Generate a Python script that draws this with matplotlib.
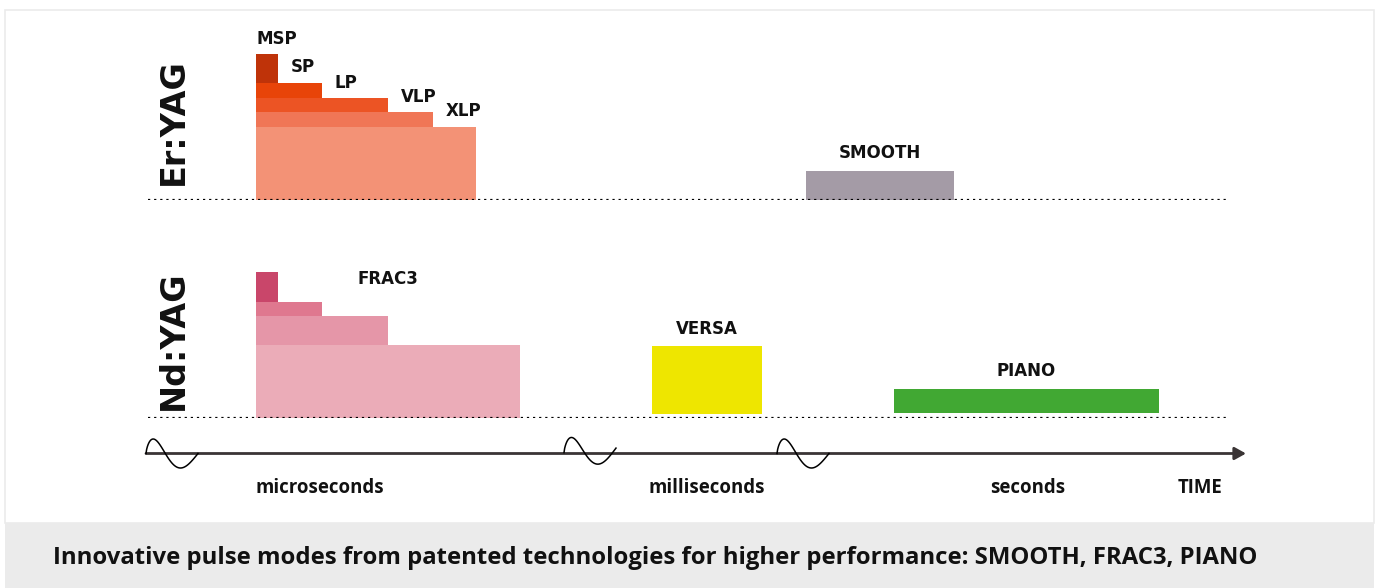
import matplotlib.pyplot as plt
from matplotlib.patches import Rectangle
import numpy as np

# schematic units: 1 unit of time / intensity on the drawing
pulse_start = 10.8

# Er:YAG pulse modes
er_modes = ['MSP', 'SP', 'LP', 'VLP', 'XLP']
er_end = [13.0, 17.4, 24.0, 28.5, 32.8]
er_height = [14.6, 11.7, 10.2, 8.8, 7.3]
er_colors = ['#bf3309', '#e84409', '#ec5424', '#f07656', '#f39276']

# Nd:YAG FRAC3 pulse train
nd_end = [13.0, 17.4, 24.0, 37.2]
nd_height = [14.6, 11.6, 10.2, 7.3]
nd_colors = ['#c9466a', '#df788f', '#e596a8', '#ebacb8']

# other modes: name, row, start, end, bottom, top, colour
extra_modes = ['SMOOTH', 'VERSA', 'PIANO']
extra_row = ['er', 'nd', 'nd']
extra_start = [65.8, 50.4, 74.6]
extra_end = [80.6, 61.4, 101.1]
extra_bottom = [0.0, 0.4, 0.5]
extra_top = [2.9, 7.2, 2.9]
extra_colors = ['#a49ba6', '#eee600', '#41a833']

# time scale
scale_labels = ['microseconds', 'milliseconds', 'seconds', 'TIME']
scale_pos = [17.2, 55.9, 88.0, 105.2]
break_pos = [-0.2, 41.6, 62.9]
break_tilt = [0.0, 0.45, 0.0]

caption = 'Innovative pulse modes from patented technologies for higher performance: SMOOTH, FRAC3, PIANO'

W, H = 1376, 588
fig = plt.figure(figsize=(W / 100, H / 100), dpi=100)
fig.patch.set_facecolor('white')

# white panel border and grey caption band
fig.add_artist(Rectangle((5 / W, 65 / H), 1369 / W, 513 / H, transform=fig.transFigure,
                         facecolor='white', edgecolor='#ebebeb', lw=1.2, zorder=0))
fig.add_artist(Rectangle((5 / W, 0), 1369 / W, 65 / H, transform=fig.transFigure,
                         facecolor='#ebebeb', edgecolor='none', zorder=0))
fig.text(53 / W, 30 / H, caption, family='Open Sans', weight='bold', fontsize=17.2,
         color='#111111', ha='left', va='center')

xlim = (-14.8, 122.8)
ax_er = fig.add_axes([0, 388 / H, 1, 190 / H])
ax_nd = fig.add_axes([0, 170 / H, 1, 190 / H])
ax_t = fig.add_axes([0, 65 / H, 1, 95 / H])
for ax in (ax_er, ax_nd):
    ax.set_xlim(*xlim)
    ax.set_ylim(0, 19)
ax_t.set_xlim(*xlim)
ax_t.set_ylim(-6.95, 2.55)
for ax in (ax_er, ax_nd, ax_t):
    ax.axis('off')
    ax.patch.set_alpha(0)

lab = dict(family='DejaVu Sans', weight='bold', fontsize=12, color='#111111')

# Er:YAG stepped pulses, tallest drawn first so each wider pulse covers its base
for i in range(len(er_modes)):
    ax_er.bar(pulse_start, er_height[i], width=er_end[i] - pulse_start, align='edge',
              color=er_colors[i], lw=0, zorder=2)
for i, m in enumerate(er_modes):
    x = pulse_start if i == 0 else er_end[i - 1] + 1.3
    ax_er.text(x, er_height[i] + 1.55, m, ha='left', va='center', **lab)

# Nd:YAG FRAC3
for i in range(len(nd_end)):
    ax_nd.bar(pulse_start, nd_height[i], width=nd_end[i] - pulse_start, align='edge',
              color=nd_colors[i], lw=0, zorder=2)
ax_nd.text(nd_end[2], nd_height[0] - 0.7, 'FRAC3', ha='center', va='center', **lab)

for m, r, s, e, b, t, c in zip(extra_modes, extra_row, extra_start, extra_end,
                               extra_bottom, extra_top, extra_colors):
    ax = ax_er if r == 'er' else ax_nd
    ax.bar(s, t - b, bottom=b, width=e - s, align='edge', color=c, lw=0, zorder=2)
    ax.text((s + e) / 2, t + 1.75, m, ha='center', va='center', **lab)

# dotted baselines and row names
for ax, name in ((ax_er, 'Er:YAG'), (ax_nd, 'Nd:YAG')):
    ax.plot([0, 108.1], [0, 0], color='#000000', lw=1.6, ls=(0, (1, 1.75)), zorder=3)
    ax.text(2.5, 7.8, name, rotation=90, ha='center', va='center',
            family='DejaVu Sans', weight='heavy', fontsize=24, color='#111111')

# time axis with breaks
ax_t.annotate('', xy=(109.8, 0), xytext=(-0.2, 0),
              arrowprops=dict(arrowstyle='-|>,head_length=0.45,head_width=0.25',
                              lw=2, color='#3a3435', shrinkA=0, shrinkB=0,
                              mutation_scale=15))
t = np.linspace(0, 1, 80)
for x0, tilt in zip(break_pos, break_tilt):
    ax_t.plot(x0 + 5.2 * t, 1.45 * np.sin(2 * np.pi * t ** 0.7) + tilt * t + 0.2 * tilt,
              color='black', lw=1.1, zorder=3)
for l, x in zip(scale_labels, scale_pos):
    ax_t.text(x, -3.45, l, ha='center', va='center', family='Open Sans',
              weight='bold', fontsize=13.4, color='#111111')

plt.savefig('out.png', dpi=100)
